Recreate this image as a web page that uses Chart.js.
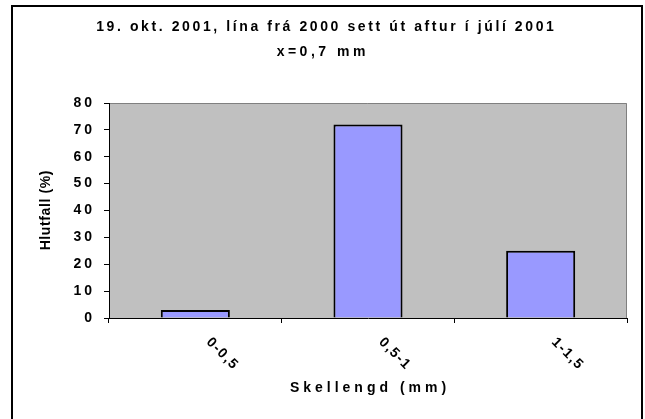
<!DOCTYPE html>
<html>
<head>
<meta charset="utf-8">
<script src="https://cdn.jsdelivr.net/npm/chart.js@4"></script>
<style>
  html, body { margin: 0; padding: 0; background: #fff; }
  #wrap { width: 645px; height: 419px; }
</style>
</head>
<body>
<div id="wrap"><canvas id="myChart" width="645" height="419"></canvas></div>
<script>
const categories = ['0-0,5', '0,5-1', '1-1,5'];
const shares = [3, 72, 25];
const yTickValues = [0, 10, 20, 30, 40, 50, 60, 70, 80];
const titleLines = ['19. okt. 2001, lína frá 2000 sett út aftur í júlí 2001', 'x=0,7 mm'];
const xTitle = 'Skellengd (mm)';
const yTitle = 'Hlutfall (%)';

const FONT = '"Liberation Sans", Arial, sans-serif';
Chart.defaults.font.family = FONT;

// draws text with letter spacing, optionally centered and rotated
function drawText(ctx, text, x, y, opts) {
  ctx.save();
  ctx.font = opts.font;
  ctx.letterSpacing = opts.spacing + 'px';
  ctx.fillStyle = '#000';
  ctx.textAlign = 'left';
  ctx.textBaseline = opts.baseline || 'middle';
  ctx.translate(x, y);
  ctx.rotate((opts.angle || 0) * Math.PI / 180);
  let dx = 0;
  if (opts.center) dx = -(ctx.measureText(text).width - opts.spacing) / 2;
  ctx.fillText(text, dx, 0);
  ctx.restore();
}

const excelLook = {
  id: 'excelLook',
  beforeDraw(chart) {
    const { ctx, chartArea: a } = chart;
    ctx.save();
    ctx.fillStyle = '#c0c0c0';
    ctx.fillRect(a.left, a.top, a.right - a.left, a.bottom - a.top);
    ctx.strokeStyle = '#808080';
    ctx.lineWidth = 1;
    ctx.beginPath();
    ctx.moveTo(a.left, a.top + 0.5);
    ctx.lineTo(a.right - 0.5, a.top + 0.5);
    ctx.lineTo(a.right - 0.5, a.bottom);
    ctx.stroke();
    ctx.restore();
    // spacing for the y tick labels drawn by the scale
    ctx.letterSpacing = '3px';
  },
  afterDraw(chart) {
    const { ctx, chartArea: a } = chart;
    ctx.letterSpacing = '0px';
    const x = chart.scales.x;

    drawText(ctx, titleLines[0], 325, 27, { font: 'bold 14px ' + FONT, spacing: 2.6, center: true });
    drawText(ctx, titleLines[1], 321, 52, { font: 'bold 14px ' + FONT, spacing: 3.5, center: true });

    categories.forEach((c, i) => {
      drawText(ctx, c, x.getPixelForValue(i) + 18, 335, { font: 'bold 14px ' + FONT, spacing: 1.5, angle: 45, baseline: 'top' });
    });

    drawText(ctx, xTitle, (a.left + a.right) / 2, 388, { font: 'bold 14px ' + FONT, spacing: 4, center: true });
    drawText(ctx, yTitle, 46, (a.top + a.bottom) / 2, { font: 'bold 14px ' + FONT, spacing: 0.6, center: true, angle: -90 });

    // outer chart frame
    ctx.save();
    ctx.strokeStyle = '#000';
    ctx.lineWidth = 2;
    ctx.strokeRect(12, 6, 630, 450);
    ctx.restore();
  }
};

new Chart(document.getElementById('myChart'), {
  type: 'bar',
  data: {
    labels: categories,
    datasets: [{
      data: shares,
      backgroundColor: '#9999ff',
      borderColor: '#000',
      borderWidth: 2,
      barPercentage: 0.4,
      categoryPercentage: 1.0
    }]
  },
  options: {
    responsive: false,
    animation: false,
    layout: { padding: { top: 103, right: 18, bottom: 0, left: 0 } },
    plugins: {
      legend: { display: false },
      tooltip: { enabled: false },
      title: { display: false }
    },
    scales: {
      x: {
        offset: true,
        grid: { offset: true, drawOnChartArea: false, drawTicks: true, tickLength: 5, color: '#000' },
        border: { display: true, color: '#000', width: 1 },
        ticks: { display: false },
        afterFit: s => { s.height = 101; }
      },
      y: {
        min: 0,
        max: 80,
        afterBuildTicks: axis => { axis.ticks = yTickValues.map(v => ({ value: v })); },
        grid: { drawOnChartArea: false, drawTicks: true, tickLength: 5, color: '#000' },
        border: { display: true, color: '#000', width: 1 },
        ticks: { color: '#000', font: { size: 14, weight: 'bold' }, padding: 9 },
        afterFit: s => { s.width = 109; }
      }
    }
  },
  plugins: [excelLook]
});
</script>
</body>
</html>
